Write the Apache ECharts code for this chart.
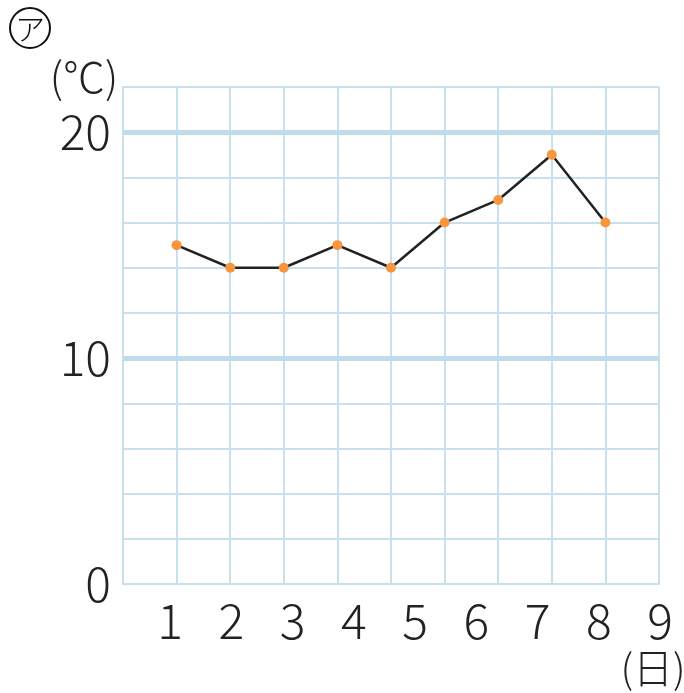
<!DOCTYPE html>
<html><head><meta charset="utf-8">
<script src="https://cdn.jsdelivr.net/npm/echarts@6/dist/echarts.min.js"></script>
<style>html,body{margin:0;padding:0;background:#fff}#c{width:684px;height:693px}</style>
</head><body><div id="c"></div>
<script>
var days = [1, 2, 3, 4, 5, 6, 7, 8, 9];
var dayLabels = ['1', '2', '3', '4', '5', '6', '7', '8', '9'];
var temps = [15, 14, 14, 15, 14, 16, 17, 19, 16];
var yLabels = [0, 10, 20];
var boldLines = [10, 20];

var FONT = "'Noto Sans CJK JP', 'Noto Sans', sans-serif";
var gridColor = '#c6e0ee';
var chart = echarts.init(document.getElementById('c'));
chart.setOption({
  animation: false,
  grid: [
    { left: 123, top: 87, width: 536, height: 497 },
    { left: 170, top: 87, width: 490, height: 497 }
  ],
  xAxis: [
    { type: 'value', gridIndex: 0, min: 0, max: 10, interval: 1,
      axisLine: { show: true, lineStyle: { color: gridColor, width: 2 } },
      axisTick: { show: false }, axisLabel: { show: false },
      splitLine: { show: true, lineStyle: { color: gridColor, width: 2 } } },
    { type: 'category', gridIndex: 1, data: dayLabels, boundaryGap: false,
      axisLine: { show: false }, axisTick: { show: false },
      axisLabel: { color: '#222', fontSize: 48, fontFamily: FONT, fontWeight: 300, margin: 13 },
      splitLine: { show: false } }
  ],
  yAxis: [
    { type: 'value', gridIndex: 0, min: 0, max: 22, interval: 2,
      axisLine: { show: true, lineStyle: { color: gridColor, width: 2 } },
      axisTick: { show: false },
      axisLabel: { color: '#222', fontSize: 48, fontFamily: FONT, fontWeight: 300, margin: 12,
        formatter: function (v) { return yLabels.indexOf(v) >= 0 ? String(v) : ''; } },
      splitLine: { show: true, lineStyle: { color: gridColor, width: 2 } } },
    { type: 'value', gridIndex: 1, min: 0, max: 22, show: false }
  ],
  graphic: [
    { type: 'circle', shape: { cx: 30, cy: 28, r: 20 }, style: { fill: 'none', stroke: '#111', lineWidth: 2 } },
    { type: 'text', x: 30, y: 29, style: { text: 'ア', fontSize: 30, fontFamily: FONT, fontWeight: 300, fill: '#111', align: 'center', verticalAlign: 'middle' } },
    { type: 'text', x: 84, y: 77, style: { text: '(℃)', fontSize: 42, fontFamily: FONT, fontWeight: 300, fill: '#222', align: 'center', verticalAlign: 'middle' } },
    { type: 'text', x: 653, y: 668, style: { text: '(日)', fontSize: 40, fontFamily: FONT, fontWeight: 300, fill: '#222', align: 'center', verticalAlign: 'middle' } }
  ],
  series: [{
    type: 'line', xAxisIndex: 0, yAxisIndex: 0,
    data: days.map(function (d, i) { return [d, temps[i]]; }),
    symbol: 'circle', symbolSize: 10,
    itemStyle: { color: '#f7963d' },
    lineStyle: { color: '#222', width: 2.5 },
    markLine: { silent: true, symbol: 'none', label: { show: false },
      lineStyle: { color: '#bfdcea', width: 5, type: 'solid' },
      data: boldLines.map(function (v) { return { yAxis: v }; }) }
  }]
});
</script></body></html>
